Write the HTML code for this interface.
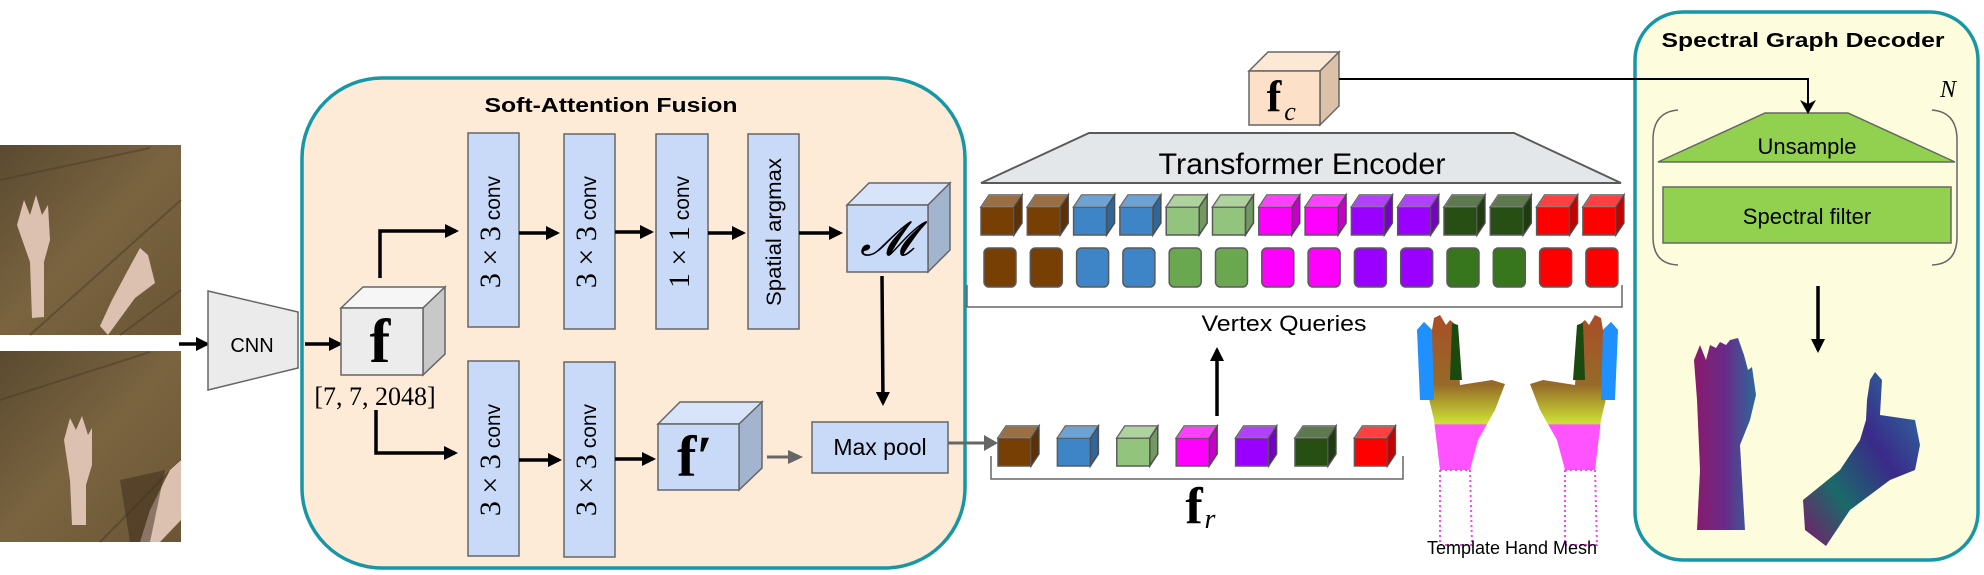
<!DOCTYPE html>
<html><head><meta charset="utf-8"><style>
html,body{margin:0;padding:0;background:#fff;}
svg{display:block;}
.s{font-family:"Liberation Sans",sans-serif;}
.m{font-family:"Liberation Serif",serif;}
</style></head><body>
<svg width="1984" height="575" viewBox="0 0 1984 575" xmlns="http://www.w3.org/2000/svg">
<defs>
<symbol id="cb" overflow="visible">
<rect x="0" y="12" width="33" height="28" fill="currentColor" stroke="#5a5a5a" stroke-width="1.5"/>
<polygon points="0,12 8,0 41,0 33,12" fill="currentColor" stroke="#5a5a5a" stroke-width="1.5"/>
<polygon points="0,12 8,0 41,0 33,12" fill="#fff" opacity="0.25"/>
<polygon points="33,12 41,0 41,28 33,40" fill="currentColor" stroke="#5a5a5a" stroke-width="1.5"/>
<polygon points="33,12 41,0 41,28 33,40" fill="#000" opacity="0.22"/>
</symbol>
<linearGradient id="ph" x1="0" y1="0" x2="1" y2="1"><stop offset="0" stop-color="#5a4a30"/><stop offset="0.5" stop-color="#7a6440"/><stop offset="1" stop-color="#6a5535"/></linearGradient>
<linearGradient id="hg1" x1="0" y1="0" x2="1" y2="0"><stop offset="0" stop-color="#8a1a6a"/><stop offset="0.5" stop-color="#6a2a8a"/><stop offset="1" stop-color="#2a6a9a"/></linearGradient>
<linearGradient id="hg2" x1="0" y1="1" x2="1" y2="0"><stop offset="0" stop-color="#7a1a6a"/><stop offset="0.3" stop-color="#1a6a6a"/><stop offset="0.6" stop-color="#3a2a8a"/><stop offset="1" stop-color="#2a7aa0"/></linearGradient>
<linearGradient id="mh" x1="0" y1="0" x2="0" y2="1"><stop offset="0" stop-color="#a03a10"/><stop offset="0.45" stop-color="#8a5a10"/><stop offset="0.7" stop-color="#c8e020"/><stop offset="0.71" stop-color="#ff40ff"/><stop offset="1" stop-color="#ff40ff"/></linearGradient>
<marker id="ab" markerWidth="14" markerHeight="14" refX="11" refY="7" orient="auto" markerUnits="userSpaceOnUse"><path d="M0,0 L14,7 L0,14 z" fill="#000"/></marker>
</defs>

<rect x="0" y="145" width="181" height="190" fill="url(#ph)"/>
<rect x="0" y="351" width="181" height="191" fill="url(#ph)"/>
<path d="M0,180 L150,148 M30,335 L181,200 M120,335 L181,290" stroke="#4a3c28" stroke-width="2" opacity="0.5"/>
<path d="M0,400 L150,352 M100,542 L181,460" stroke="#4a3c28" stroke-width="2" opacity="0.5"/>
<path d="M17,225 L24,200 L30,215 L36,195 L42,215 L48,205 L50,240 L44,262 L44,317 L32,318 L30,262 Z" fill="#dcc0b0"/>
<path d="M100,326 L112,300 L128,270 L140,248 L148,255 L155,283 L135,298 L108,335 Z" fill="#dcc0b0"/>
<path d="M64,440 L70,418 L76,430 L82,416 L88,435 L92,428 L92,465 L86,485 L86,525 L72,525 L70,480 Z" fill="#dcc0b0"/>
<path d="M140,542 L150,510 L170,470 L181,460 L181,520 L160,542 Z" fill="#dcc0b0"/>
<path d="M120,480 L165,470 L150,542 L130,542 Z" fill="#3a2a18" opacity="0.5"/>

<line x1="179" y1="344" x2="207" y2="344" stroke="#000" stroke-width="3.5" marker-end="url(#ab)"/>
<polygon points="208,291 298,312 298,368 208,390" fill="#ebebeb" stroke="#666" stroke-width="1.5"/>
<text x="252" y="352" class="s" font-size="20" text-anchor="middle">CNN</text>

<rect x="302" y="78" width="663" height="490" rx="80" fill="#fdebd8" stroke="#1797a5" stroke-width="3.5"/>
<text x="611" y="112" class="s" font-size="20" font-weight="bold" text-anchor="middle" textLength="253" lengthAdjust="spacingAndGlyphs">Soft-Attention Fusion</text>

<line x1="305" y1="344" x2="340" y2="344" stroke="#000" stroke-width="3.5" marker-end="url(#ab)"/>
<polygon points="341,308 363,287 445,287 423,308" fill="#f6f6f6" stroke="#666" stroke-width="1.5"/>
<polygon points="423,308 445,287 445,354 423,375" fill="#c8c8c8" stroke="#666" stroke-width="1.5"/>
<rect x="341" y="308" width="82" height="67" fill="#ececec" stroke="#666" stroke-width="1.5"/>
<text x="380" y="362" class="m" font-size="62" font-weight="bold" text-anchor="middle">f</text>
<text x="375" y="405" class="m" font-size="26" text-anchor="middle">[7, 7, 2048]</text>

<polyline points="380,278 380,231 456,231" fill="none" stroke="#000" stroke-width="3.5" marker-end="url(#ab)"/>
<polyline points="376,410 376,453 455,453" fill="none" stroke="#000" stroke-width="3.5" marker-end="url(#ab)"/>

<g fill="#c9daf8" stroke="#666" stroke-width="1.5">
<rect x="468" y="133" width="51" height="194"/>
<rect x="564" y="134" width="51" height="195"/>
<rect x="656" y="134" width="52" height="195"/>
<rect x="748" y="134" width="51" height="195"/>
<rect x="468" y="361" width="51" height="195"/>
<rect x="564" y="362" width="51" height="195"/>
</g>
<g class="s" font-size="21" text-anchor="middle">
<text transform="translate(500,232) rotate(-90)"><tspan class="m" font-size="30">3 × 3</tspan> conv</text>
<text transform="translate(596,232) rotate(-90)"><tspan class="m" font-size="30">3 × 3</tspan> conv</text>
<text transform="translate(689,232) rotate(-90)"><tspan class="m" font-size="30">1 × 1</tspan> conv</text>
<text transform="translate(781,232) rotate(-90)" textLength="148" lengthAdjust="spacingAndGlyphs">Spatial argmax</text>
<text transform="translate(500,460) rotate(-90)"><tspan class="m" font-size="30">3 × 3</tspan> conv</text>
<text transform="translate(596,460) rotate(-90)"><tspan class="m" font-size="30">3 × 3</tspan> conv</text>
</g>
<g stroke="#000" stroke-width="3.5" marker-end="url(#ab)">
<line x1="519" y1="233" x2="557" y2="233"/>
<line x1="615" y1="232" x2="651" y2="232"/>
<line x1="708" y1="233" x2="743" y2="233"/>
<line x1="799" y1="233" x2="840" y2="233"/>
<line x1="519" y1="460" x2="559" y2="460"/>
<line x1="615" y1="459" x2="653" y2="459"/>
<line x1="882" y1="276" x2="883" y2="403"/>
</g>

<polygon points="847,205 869,183 950,183 928,205" fill="#d8e4fa" stroke="#666" stroke-width="1.5"/>
<polygon points="928,205 950,183 950,250 928,272" fill="#a3b4cf" stroke="#666" stroke-width="1.5"/>
<rect x="847" y="205" width="81" height="67" fill="#c9daf8" stroke="#666" stroke-width="1.5"/>
<text x="887" y="255" class="m" font-size="48" font-style="italic" text-anchor="middle">𝓜</text>

<polygon points="658,424 680,402 762,402 739,424" fill="#d8e4fa" stroke="#666" stroke-width="1.5"/>
<polygon points="739,424 762,402 762,468 739,490" fill="#a3b4cf" stroke="#666" stroke-width="1.5"/>
<rect x="658" y="424" width="81" height="66" fill="#c9daf8" stroke="#666" stroke-width="1.5"/>
<text x="695" y="476" class="m" font-size="58" font-weight="bold" text-anchor="middle">f′</text>

<line x1="767" y1="457" x2="788" y2="457" stroke="#666" stroke-width="3"/>
<path d="M788,450 L803,457 L788,464 z" fill="#666"/>
<rect x="812" y="422" width="136" height="51" fill="#c9daf8" stroke="#666" stroke-width="1.5"/>
<text x="880" y="455" class="s" font-size="23" text-anchor="middle">Max pool</text>
<line x1="948" y1="443" x2="986" y2="443" stroke="#666" stroke-width="3"/>
<path d="M984,435 L998,443 L984,451 z" fill="#666"/>

<polygon points="1249,71 1268,52 1339,52 1320,71" fill="#fde8d6" stroke="#666" stroke-width="1.5"/>
<polygon points="1320,71 1339,52 1339,106 1320,125" fill="#dcc0a8" stroke="#666" stroke-width="1.5"/>
<rect x="1249" y="71" width="71" height="54" fill="#fde0c8" stroke="#666" stroke-width="1.5"/>
<text x="1274" y="111" class="m" font-size="44" font-weight="bold" text-anchor="middle">f</text>
<text x="1290" y="120" class="m" font-size="26" font-style="italic" text-anchor="middle">c</text>

<polygon points="1089,133 1514,133 1621,183 981,183" fill="#e4e7ea" stroke="#5a5a5a" stroke-width="2"/>
<text x="1302" y="174" class="s" font-size="30" text-anchor="middle" textLength="287" lengthAdjust="spacingAndGlyphs">Transformer Encoder</text>

<g>
<use href="#cb" x="981" y="195" style="color:#783f04"/>
<use href="#cb" x="1027.3" y="195" style="color:#783f04"/>
<use href="#cb" x="1073.6" y="195" style="color:#3d85c6"/>
<use href="#cb" x="1119.9" y="195" style="color:#3d85c6"/>
<use href="#cb" x="1166.2" y="195" style="color:#93c47d"/>
<use href="#cb" x="1212.5" y="195" style="color:#93c47d"/>
<use href="#cb" x="1258.8" y="195" style="color:#ff00ff"/>
<use href="#cb" x="1305.1" y="195" style="color:#ff00ff"/>
<use href="#cb" x="1351.4" y="195" style="color:#9900ff"/>
<use href="#cb" x="1397.7" y="195" style="color:#9900ff"/>
<use href="#cb" x="1444" y="195" style="color:#274e13"/>
<use href="#cb" x="1490.3" y="195" style="color:#274e13"/>
<use href="#cb" x="1536.6" y="195" style="color:#ff0000"/>
<use href="#cb" x="1582.9" y="195" style="color:#ff0000"/>
</g>
<g stroke="#5a5a5a" stroke-width="1.5">
<rect x="984" y="248" width="32" height="39" rx="5" fill="#783f04"/>
<rect x="1030.3" y="248" width="32" height="39" rx="5" fill="#783f04"/>
<rect x="1076.6" y="248" width="32" height="39" rx="5" fill="#3d85c6"/>
<rect x="1122.9" y="248" width="32" height="39" rx="5" fill="#3d85c6"/>
<rect x="1169.2" y="248" width="32" height="39" rx="5" fill="#6aa84f"/>
<rect x="1215.5" y="248" width="32" height="39" rx="5" fill="#6aa84f"/>
<rect x="1261.8" y="248" width="32" height="39" rx="5" fill="#ff00ff"/>
<rect x="1308.1" y="248" width="32" height="39" rx="5" fill="#ff00ff"/>
<rect x="1354.4" y="248" width="32" height="39" rx="5" fill="#9900ff"/>
<rect x="1400.7" y="248" width="32" height="39" rx="5" fill="#9900ff"/>
<rect x="1447" y="248" width="32" height="39" rx="5" fill="#38761d"/>
<rect x="1493.3" y="248" width="32" height="39" rx="5" fill="#38761d"/>
<rect x="1539.6" y="248" width="32" height="39" rx="5" fill="#ff0000"/>
<rect x="1585.9" y="248" width="32" height="39" rx="5" fill="#ff0000"/>
</g>
<polyline points="967,285 967,307 1622,307 1622,285" fill="none" stroke="#666" stroke-width="1.5"/>
<text x="1284" y="331" class="s" font-size="22" text-anchor="middle" textLength="165" lengthAdjust="spacingAndGlyphs">Vertex Queries</text>
<line x1="1217" y1="416" x2="1217" y2="350" stroke="#000" stroke-width="3.5" marker-end="url(#ab)"/>

<use href="#cb" x="998" y="426" style="color:#783f04"/>
<use href="#cb" x="1057.4" y="426" style="color:#3d85c6"/>
<use href="#cb" x="1116.8" y="426" style="color:#93c47d"/>
<use href="#cb" x="1176.2" y="426" style="color:#ff00ff"/>
<use href="#cb" x="1235.6" y="426" style="color:#9900ff"/>
<use href="#cb" x="1295" y="426" style="color:#274e13"/>
<use href="#cb" x="1354.4" y="426" style="color:#ff0000"/>
<polyline points="991,456 991,479 1403,479 1403,456" fill="none" stroke="#666" stroke-width="1.5"/>
<text x="1194" y="523" class="m" font-size="52" font-weight="bold" text-anchor="middle">f</text>
<text x="1210" y="528" class="m" font-size="28" font-style="italic" text-anchor="middle">r</text>

<g>
<path d="M1440,470 L1434,420 L1420,360 L1417,330 L1424,322 L1432,330 L1434,318 L1440,315 L1446,325 L1450,320 L1456,325 L1460,385 L1492,380 L1505,384 L1495,410 L1478,440 L1470,470 Z" fill="url(#mh)" opacity="0.9"/>
<path d="M1417,330 L1424,322 L1432,330 L1434,400 L1420,400 Z" fill="#1e90ff"/>
<path d="M1452,323 L1458,325 L1462,380 L1450,380 Z" fill="#1a4a10"/>
<path d="M1440,470 L1470,470 L1472,545 L1440,545 Z" fill="none" stroke="#ff40ff" stroke-width="2" stroke-dasharray="2 3"/>
<path d="M1595,470 L1601,420 L1615,360 L1618,330 L1611,322 L1603,330 L1601,318 L1595,315 L1589,325 L1585,320 L1579,325 L1575,385 L1543,380 L1530,384 L1540,410 L1557,440 L1565,470 Z" fill="url(#mh)" opacity="0.9"/>
<path d="M1618,330 L1611,322 L1603,330 L1601,400 L1615,400 Z" fill="#1e90ff"/>
<path d="M1583,323 L1577,325 L1573,380 L1585,380 Z" fill="#1a4a10"/>
<path d="M1565,470 L1595,470 L1597,545 L1565,545 Z" fill="none" stroke="#ff40ff" stroke-width="2" stroke-dasharray="2 3"/>
</g>
<text x="1512" y="554" class="s" font-size="18" text-anchor="middle">Template Hand Mesh</text>

<rect x="1635" y="12" width="343" height="548" rx="48" fill="#fdfdde" stroke="#1797a5" stroke-width="3.5"/>
<text x="1803" y="47" class="s" font-size="20" font-weight="bold" text-anchor="middle" textLength="283" lengthAdjust="spacingAndGlyphs">Spectral Graph Decoder</text>
<text x="1948" y="97" class="m" font-size="24" font-style="italic" text-anchor="middle">N</text>
<path d="M1678,110 Q1653,112 1653,140 L1653,237 Q1653,264 1678,265" fill="none" stroke="#666" stroke-width="1.5"/>
<path d="M1932,110 Q1957,112 1957,140 L1957,237 Q1957,264 1932,265" fill="none" stroke="#666" stroke-width="1.5"/>
<polygon points="1765,113 1848,113 1955,162 1658,162" fill="#92d050" stroke="#666" stroke-width="1.5"/>
<text x="1807" y="154" class="s" font-size="22" text-anchor="middle">Unsample</text>
<rect x="1663" y="187" width="288" height="56" fill="#92d050" stroke="#666" stroke-width="1.5"/>
<text x="1807" y="224" class="s" font-size="22" text-anchor="middle">Spectral filter</text>
<line x1="1818" y1="286" x2="1818" y2="350" stroke="#000" stroke-width="3.5" marker-end="url(#ab)"/>

<polyline points="1339,79 1808,79 1808,104" fill="none" stroke="#000" stroke-width="2"/>
<path d="M1800,100 L1808,114 L1816,100 L1808,104 z" fill="#000"/>

<path d="M1697,530 L1700,470 L1697,400 L1694,360 L1700,345 L1706,360 L1710,345 L1716,348 L1720,342 L1726,345 L1730,340 L1738,338 L1744,355 L1748,370 L1752,367 L1756,395 L1750,420 L1740,445 L1745,530 Z" fill="url(#hg1)"/>
<path d="M1805,530 L1803,500 L1840,470 L1860,440 L1866,420 L1867,400 L1870,380 L1875,372 L1882,380 L1880,415 L1915,420 L1920,445 L1915,470 L1890,480 L1850,510 L1826,546 Z" fill="url(#hg2)"/>
</svg>
</body></html>
